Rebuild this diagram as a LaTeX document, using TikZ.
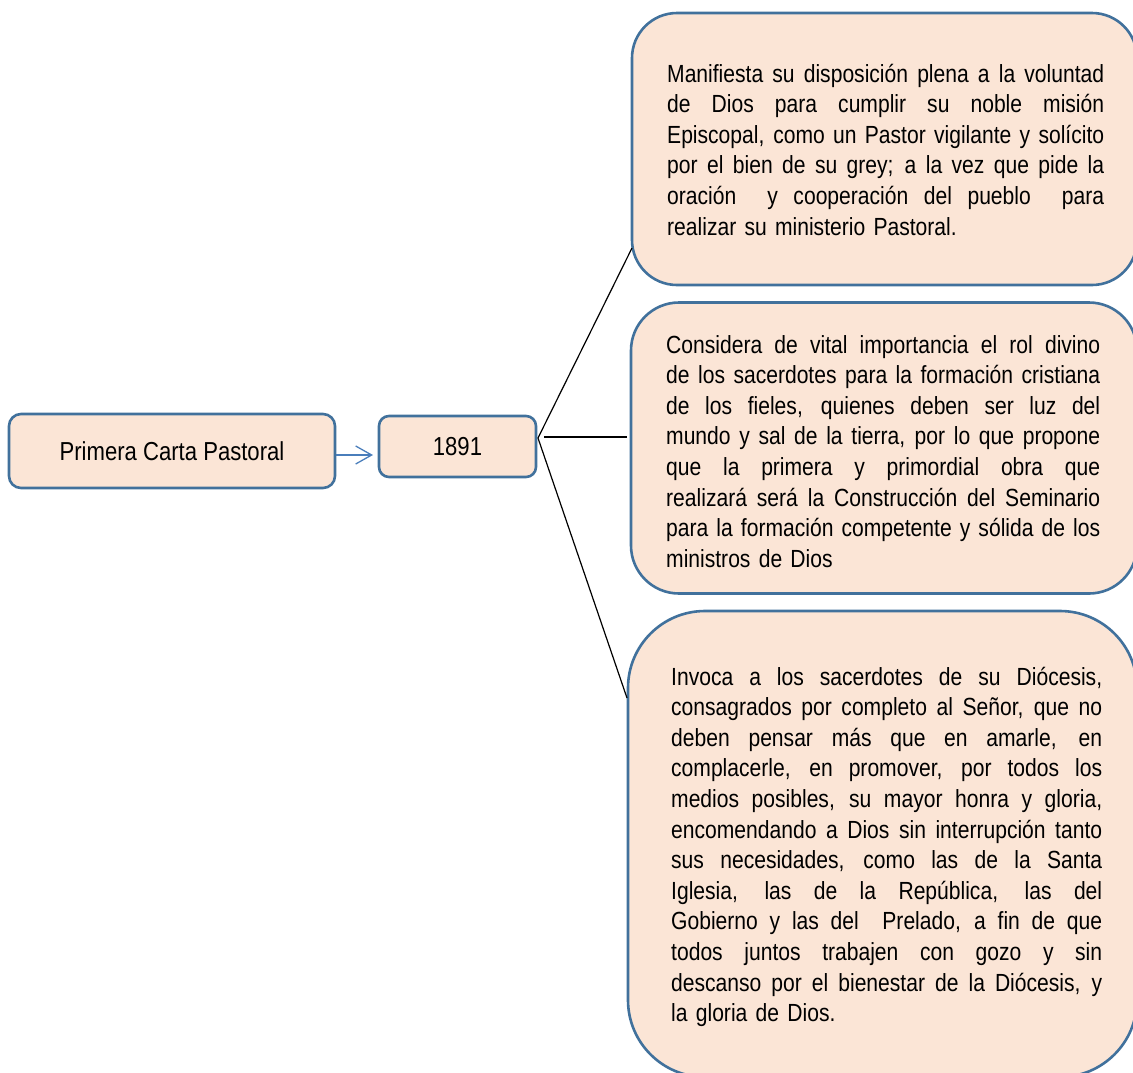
\documentclass[tikz,border=0pt]{standalone}
\usepackage{fontspec}
\setmainfont{Liberation Sans}[FakeStretch=0.85]
\usetikzlibrary{arrows.meta}
\definecolor{boxfill}{HTML}{FBE5D6}
\definecolor{boxline}{HTML}{41719C}
\definecolor{arrowblue}{HTML}{4A7EBB}
\newcommand\jl[2]{\hbox to #1{\spaceskip=\fontdimen2\font plus 1fil\relax #2}}
\newcommand\jlast[1]{\hbox{#1}}
\tikzset{
  bigbox/.style={draw=boxline, fill=boxfill, line width=2.6pt, inner sep=0pt},
  smallbox/.style={draw=boxline, fill=boxfill, line width=2.6pt, inner sep=0pt,
    font=\fontsize{26pt}{31pt}\selectfont},
  bodytext/.style={anchor=base west, inner sep=0pt, text width=#1,
    font=\fontsize{24.8pt}{30.6pt}\selectfont},
  fanline/.style={draw=black, line width=1.2pt},
  blueconn/.style={draw=arrowblue, line width=1.3pt,
    -{Straight Barb[length=16pt,width=18pt,line width=1.3pt]}}
}
\begin{document}
\begin{tikzpicture}[x=1pt,y=-1pt]
\useasboundingbox (0,0) rectangle (1133,1072);
\clip (0,0) rectangle (1133,1072);
% left boxes
\node[smallbox, rounded corners=12pt, minimum width=326pt, minimum height=74pt] (bA) at (172,451) {Primera Carta Pastoral};
\node[smallbox, rounded corners=10pt, minimum width=157pt, minimum height=61pt] (bB) at (457.5,446.5) {1891};
% right boxes
\node[bigbox, rounded corners=45pt, minimum width=505pt, minimum height=272pt] (b1) at (884.5,149) {};
\node[bigbox, rounded corners=48pt, minimum width=506pt, minimum height=291pt] (b2) at (884,448) {};
\node[bigbox, rounded corners=77pt, minimum width=509pt, minimum height=466pt] (b3) at (882.5,844) {};
% texts
\node[bodytext=437pt] (t1) at (667,82) {%
\jl{437pt}{Manifiesta su disposición plena a la voluntad}
\jl{437pt}{de Dios para cumplir su noble misión}
\jl{437pt}{Episcopal, como un Pastor vigilante y solícito}
\jl{437pt}{por el bien de su grey; a la vez que pide la}
\jl{437pt}{oración\ \ y cooperación del pueblo\ \ para}
\jlast{realizar su ministerio Pastoral.}};
\node[bodytext=434pt] (t2) at (666,353) {%
\jl{434pt}{Considera de vital importancia el rol divino}
\jl{434pt}{de los sacerdotes para la formación cristiana}
\jl{434pt}{de los fieles, quienes deben ser luz del}
\jl{434pt}{mundo y sal de la tierra, por lo que propone}
\jl{434pt}{que la primera y primordial obra que}
\jl{434pt}{realizará será la Construcción del Seminario}
\jl{434pt}{para la formación competente y sólida de los}
\jlast{ministros de Dios}};
\node[bodytext=431pt] (t3) at (671,685) {%
\jl{431pt}{Invoca a los sacerdotes de su Diócesis,}
\jl{431pt}{consagrados por completo al Señor, que no}
\jl{431pt}{deben pensar más que en amarle, en}
\jl{431pt}{complacerle, en promover, por todos los}
\jl{431pt}{medios posibles, su mayor honra y gloria,}
\jl{431pt}{encomendando a Dios sin interrupción tanto}
\jl{431pt}{sus necesidades, como las de la Santa}
\jl{431pt}{Iglesia, las de la República, las del}
\jl{431pt}{Gobierno y las del\ \ Prelado, a fin de que}
\jl{431pt}{todos juntos trabajen con gozo y sin}
\jl{431pt}{descanso por el bienestar de la Diócesis, y}
\jlast{la gloria de Dios.}};
% connectors
\coordinate (a0) at (bA.east |- 0,455);
\coordinate (a1) at (373,455);
\draw[blueconn] (a0) -- (a1);
\coordinate (o) at (538,438);
\coordinate (m0) at (544,437);
\coordinate (e1) at (632,248);
\coordinate (e2) at (627,437);
\coordinate (e3) at (627,698);
\draw[fanline] (o) -- (e1);
\draw[fanline] (m0) -- (e2);
\draw[fanline] (o) -- (e3);
\end{tikzpicture}
\end{document}
